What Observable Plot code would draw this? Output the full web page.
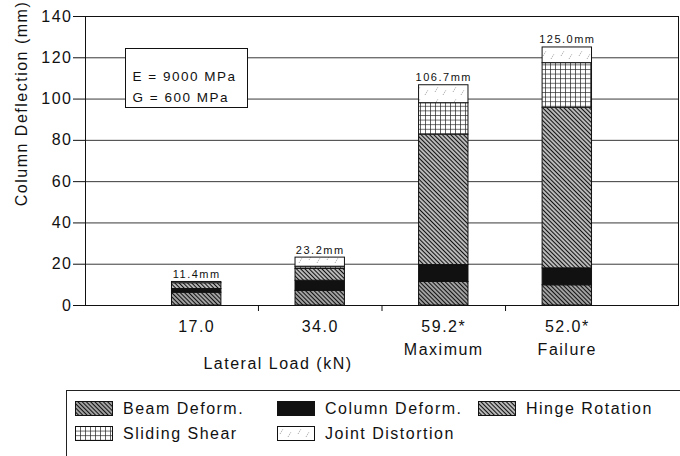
<!DOCTYPE html>
<html>
<head>
<meta charset="utf-8">
<script src="https://cdn.jsdelivr.net/npm/d3@7"></script>
<script src="https://cdn.jsdelivr.net/npm/@observablehq/plot@0.6"></script>
<style>
  body { margin: 0; background: #fff; overflow: hidden; font-family: "Liberation Sans", Arial, sans-serif; color: #111; }
  #legend { position: relative; margin: 10px 0 0 66px; width: 700px; height: 90px; box-sizing: border-box;
            border-top: 1px solid #222; border-left: 1px solid #222; padding: 5px 0 0 8px;
            display: grid; grid-template-columns: 202px 201px auto; grid-auto-rows: 25px; align-items: center; }
  .item { display: flex; align-items: center; font-size: 16px; letter-spacing: 1.5px; white-space: nowrap; }
  .item svg { margin-right: 10px; flex: none; }
</style>
</head>
<body>
<div id="chart"></div>
<div id="legend"></div>
<script>
// Lateral load stages (kN) and their notes
const loads = ["17.0", "34.0", "59.2*", "52.0*"];
const loadNotes = ["", "", "Maximum", "Failure"];

// Components of column deflection (mm), bottom to top of each stack
const components = ["Beam Deform.", "Column Deform.", "Hinge Rotation", "Sliding Shear", "Joint Distortion"];
const beamDeform      = [6.2, 7.1, 11.4, 9.8];
const columnDeform    = [1.8, 4.9, 8.2, 8.2];
const hingeRotation   = [2.8, 5.7, 63.2, 77.8];
const slidingShear    = [0.0, 1.1, 15.2, 21.6];
const jointDistortion = [0.6, 4.4, 8.7, 7.6];

const yTicks = [0, 20, 40, 60, 80, 100, 120, 140];
const materialNotes = ["E = 9000 MPa", "G = 600 MPa"];

const series = [beamDeform, columnDeform, hingeRotation, slidingShear, jointDistortion];
const fills = ["url(#pat-beam)", "#111", "url(#pat-hinge)", "url(#pat-slide)", "url(#pat-joint)"];

const rows = components.flatMap((name, s) =>
  loads.map((load, i) => ({name, i: i + 1, value: series[s][i]}))
).filter(d => d.value > 0);

// total deflection at each stage = top of each stack
const totals = loads.map((load, i) => ({i: i + 1, total: d3.sum(series, s => s[i])}));
// tick marks sit between the load stages
const boundaries = loads.slice(1).map((_, k) => k + 1.5);

const chart = Plot.plot({
  width: 680,
  height: 380,
  marginLeft: 85,
  marginRight: 2,
  marginTop: 16,
  marginBottom: 75,
  style: {fontFamily: "'Liberation Sans', Arial, sans-serif", fontSize: "16px", letterSpacing: "1.5px", color: "#111", background: "#fff"},
  x: {domain: [0.1, loads.length + 0.9], axis: null},
  y: {domain: [0, 140], axis: null},
  color: {domain: components, range: fills},
  marks: [
    Plot.gridY(yTicks, {stroke: "#222", strokeOpacity: 1, strokeWidth: 0.9}),
    Plot.rectY(rows, {x1: d => d.i - 0.2, x2: d => d.i + 0.2, y: "value", fill: "name", stroke: "#111", strokeWidth: 1}),
    Plot.text(totals, {x: "i", y: "total", text: d => d.total.toFixed(1) + "mm", dy: -4, lineAnchor: "bottom", fontSize: 11, letterSpacing: "1.2px"}),
    // material properties box
    Plot.frame({fill: "#fff", stroke: "#111", insetLeft: 40, insetTop: 32, insetRight: 431, insetBottom: 198}),
    Plot.text([materialNotes.join("\n")], {frameAnchor: "top-left", dx: 47, dy: 49, lineAnchor: "top", textAnchor: "start", lineHeight: 1.6, fontSize: 13.5}),
    Plot.frame({stroke: "#111"}),
    Plot.axisY(yTicks, {tickSize: 12, tickPadding: 1, label: null}),
    Plot.axisX(boundaries, {tickSize: 6, tickFormat: () => "", label: null}),
    Plot.text(loads, {x: (d, i) => i + 1, frameAnchor: "bottom", dy: 10, lineAnchor: "top", lineHeight: 1.45,
      text: (d, i) => loadNotes[i] ? d + "\n" + loadNotes[i] : d}),
    Plot.text(["Lateral Load (kN)"], {frameAnchor: "bottom", dx: -104, dy: 52, lineAnchor: "top"}),
    Plot.text(["Column Deflection (mm)"], {frameAnchor: "top-left", dx: -64, dy: 87, rotate: -90, textAnchor: "middle", lineAnchor: "middle"})
  ]
});

document.getElementById("chart").append(chart);

// fill patterns for the deflection components
const defs = d3.select(chart).insert("defs", ":first-child");
function hatch(id, width) {
  const p = defs.append("pattern").attr("id", id)
    .attr("width", 3).attr("height", 3)
    .attr("patternUnits", "userSpaceOnUse")
    .attr("patternTransform", "rotate(-45)");
  p.append("rect").attr("width", 3).attr("height", 3).attr("fill", "#fff");
  p.append("line").attr("x1", 1.5).attr("x2", 1.5).attr("y1", -1).attr("y2", 4)
    .attr("stroke", "#111").attr("stroke-width", width);
}
hatch("pat-beam", 1.8);
hatch("pat-hinge", 1.6);

const grid = defs.append("pattern").attr("id", "pat-slide")
  .attr("width", 5).attr("height", 4.6).attr("patternUnits", "userSpaceOnUse");
grid.append("rect").attr("width", 5).attr("height", 4.6).attr("fill", "#fff");
grid.append("path").attr("d", "M0.5,0V4.6M0,0.5H5").attr("stroke", "#222").attr("stroke-width", 0.8).attr("stroke-opacity", 0.85);

const joint = defs.append("pattern").attr("id", "pat-joint")
  .attr("width", 18).attr("height", 12).attr("patternUnits", "userSpaceOnUse");
joint.append("rect").attr("width", 18).attr("height", 12).attr("fill", "#fff");
joint.append("path").attr("d", "M3,8L6,3M11,11L14,6").attr("stroke", "#888").attr("stroke-width", 0.7).attr("stroke-dasharray", "1.5,1");

// legend
const legend = d3.select("#legend");
components.forEach((name, k) => {
  const item = legend.append("div").attr("class", "item");
  const sw = item.append("svg").attr("width", 38).attr("height", 15);
  sw.append("rect").attr("x", 0.5).attr("y", 0.5).attr("width", 37).attr("height", 14)
    .attr("fill", fills[k]).attr("stroke", "#111").attr("stroke-width", 1);
  item.append("span").text(name);
});
</script>
</body>
</html>
